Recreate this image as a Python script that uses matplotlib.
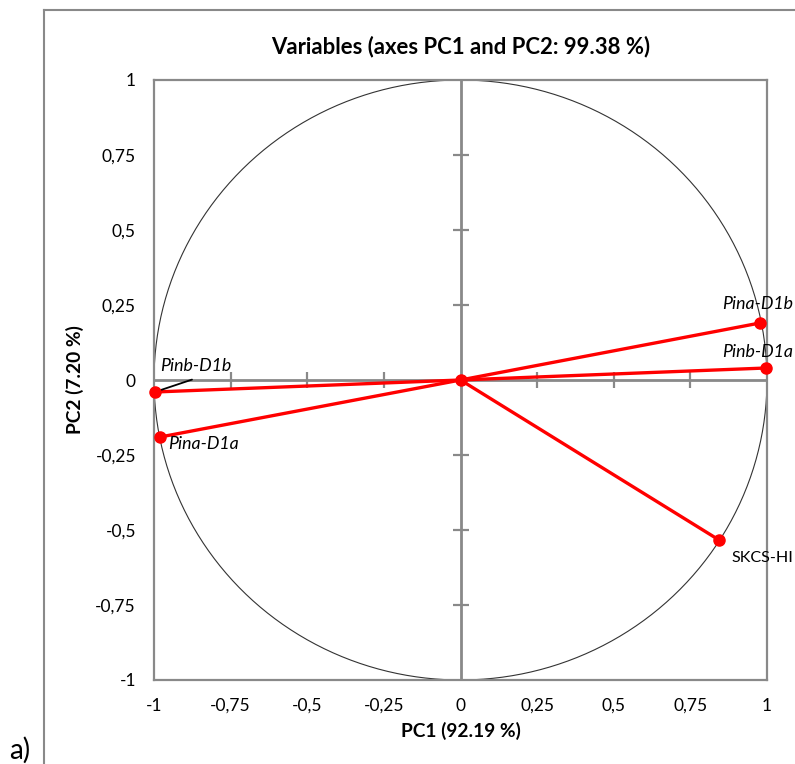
import numpy as np
import matplotlib.pyplot as plt
from matplotlib.lines import Line2D

plt.rcParams['font.family'] = ['Lato', 'DejaVu Sans']

# correlations of the variables with PC1 / PC2
names = ['Pina-D1b', 'Pinb-D1a', 'SKCS-HI', 'Pinb-D1b', 'Pina-D1a']
pc1 = [0.977, 0.997, 0.843, -0.997, -0.980]
pc2 = [0.190, 0.040, -0.533, -0.040, -0.190]
ticks = [-1, -0.75, -0.5, -0.25, 0, 0.25, 0.5, 0.75, 1]
tick_labels = ['-1', '-0,75', '-0,5', '-0,25', '0', '0,25', '0,5', '0,75', '1']

fig = plt.figure(figsize=(7.95, 7.64), dpi=100)
ax = fig.add_axes([154 / 795, 1 - 680 / 764, 613 / 795, 600 / 764])

grey = '#898989'
for s in ax.spines.values():
    s.set_color(grey)
    s.set_linewidth(1.6)

ax.set_xlim(-1, 1)
ax.set_ylim(-1, 1)
ax.set_xticks(ticks)
ax.set_xticklabels(tick_labels)
ax.set_yticks(ticks)
ax.set_yticklabels(tick_labels)
ax.tick_params(length=0, labelsize=12.5, pad=13)
ax.tick_params(axis='x', pad=13)

# unit circle
t = np.linspace(0, 2 * np.pi, 400)
ax.plot(np.cos(t), np.sin(t), color='#333333', lw=0.8, zorder=2)

# zero lines with cross ticks
ax.axhline(0, color=grey, lw=2, zorder=1)
ax.axvline(0, color=grey, lw=2, zorder=1)
inner = [v for v in ticks if v not in (-1, 0, 1)]
ax.plot(inner, [0] * len(inner), ls='none', marker='|', ms=12, mew=1.6, color=grey, zorder=1)
ax.plot([0] * len(inner), inner, ls='none', marker='_', ms=12, mew=1.6, color=grey, zorder=1)

# vectors
for x, y in zip(pc1, pc2):
    ax.plot([0, x], [0, y], color='red', lw=2.4, zorder=3)
ax.plot(pc1 + [0], pc2 + [0], ls='none', marker='o', ms=8, color='red', zorder=4, clip_on=False)

# labels (offsets in pixels)
lab = dict(textcoords='offset pixels', fontsize=12.8, ha='left', va='center')
ax.annotate(names[0], (pc1[0], pc2[0]), xytext=(-38, 19), style='italic', **lab)
ax.annotate(names[1], (pc1[1], pc2[1]), xytext=(-44, 16), style='italic', **lab)
ax.annotate(names[2], (pc1[2], pc2[2]), xytext=(13, -18),
            **{**lab, 'fontsize': 11.6})
ax.annotate(names[3], (pc1[3], pc2[3]), xytext=(5, 26), style='italic',
            arrowprops=dict(arrowstyle='-', color='black', lw=1.3, shrinkA=0, shrinkB=0,
                            relpos=(0.45, -0.35)), **lab)
ax.annotate(names[4], (pc1[4], pc2[4]), xytext=(8, -7), style='italic', **lab)

ax.set_title('Variables (axes PC1 and PC2: 99.38 %)', fontsize=15.9, fontweight='bold', pad=19)
ax.set_xlabel('PC1 (92.19 %)', fontsize=13.8, fontweight='bold', labelpad=6)
ax.set_ylabel('PC2 (7.20 %)', fontsize=13.8, fontweight='bold', labelpad=8)

# outer frame (clipped at right/bottom) and panel letter
fig.add_artist(Line2D([44 / 795, 44 / 795], [0, 1 - 10 / 764], color=grey, lw=1.5))
fig.add_artist(Line2D([44 / 795, 1], [1 - 10 / 764, 1 - 10 / 764], color=grey, lw=1.5))
fig.text(9 / 795, 5 / 764, 'a)', fontsize=20, ha='left', va='baseline')

fig.savefig('out.png', dpi=100)
